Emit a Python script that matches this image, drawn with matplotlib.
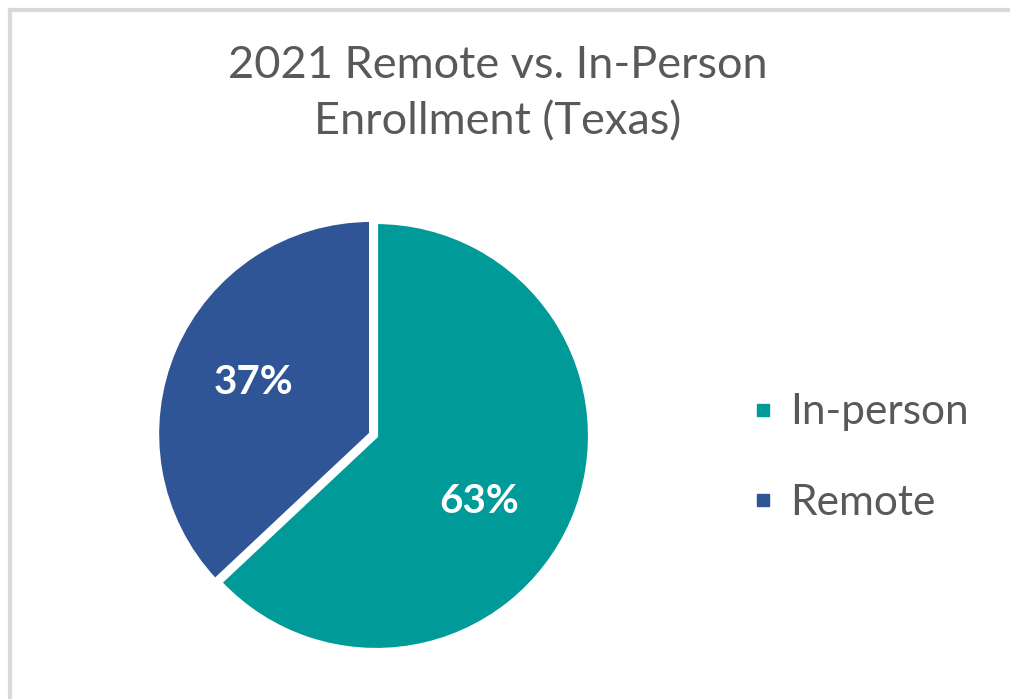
import matplotlib.pyplot as plt
from matplotlib.lines import Line2D

plt.rcParams['font.family'] = ['Lato', 'DejaVu Sans']

categorias = ['In-person', 'Remote']
valores = [63, 37]
cores = ['#009A98', '#2F5597']

fig = plt.figure(figsize=(10.10, 6.99), dpi=100)

# borda cinza (so topo e esquerda aparecem na imagem)
fig.add_artist(Line2D([0.010, 0.010], [0.0, 0.986], color='#D9D9D9', lw=3))
fig.add_artist(Line2D([0.010, 1.0], [0.986, 0.986], color='#D9D9D9', lw=3))

lim = 1.04
lado = 428 * lim
ax = fig.add_axes([(376 - lado / 2) / 1010, (263 - lado / 2) / 699, lado / 1010, lado / 699])
fatias, textos, pcts = ax.pie(valores, colors=cores, startangle=90, counterclock=False,
                              explode=[0, 0.025], autopct='%1.0f%%', pctdistance=0.6,
                              wedgeprops=dict(edgecolor='white', linewidth=3),
                              textprops=dict(color='white', fontsize=29, fontweight='bold'))
# o Excel coloca o rotulo de 63% um pouco mais abaixo
x, y = pcts[0].get_position()
pcts[0].set_position((x - 0.07, y - 0.07))
ax.set_xlim(-lim, lim)
ax.set_ylim(-lim, lim)
ax.set_aspect('equal')

fig.suptitle('2021 Remote vs. In-Person\nEnrollment (Texas)', x=0.493, y=0.935,
             fontsize=32.5, color='#595959', linespacing=1.45)

handles = [Line2D([], [], marker='s', linestyle='none', markersize=8, color=c) for c in cores]
fig.legend(handles, categorias, loc='center left', bbox_to_anchor=(0.697, 0.345),
           frameon=False, fontsize=30.5, labelcolor='#595959', handletextpad=0.13,
           labelspacing=1.25, handlelength=1.0)

plt.savefig('out.png', dpi=100)
